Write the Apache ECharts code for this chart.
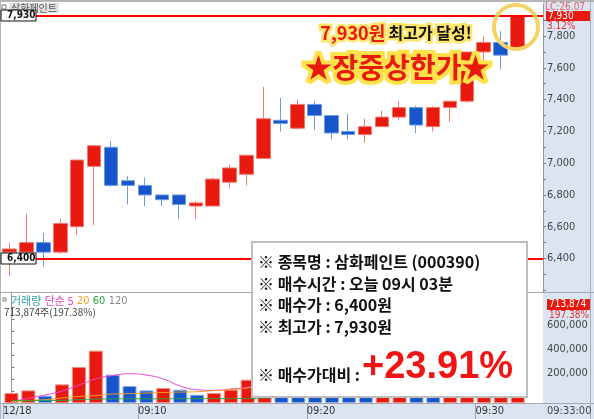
<!DOCTYPE html>
<html>
<head>
<meta charset="utf-8">
<script src="https://cdn.jsdelivr.net/npm/echarts@6/dist/echarts.min.js"></script>
<style>
  html, body { margin: 0; padding: 0; background: #fff; }
  #main { width: 594px; height: 419px; }
</style>
</head>
<body>
<div id="main"></div>
<script>
// 1분봉, 12/18
const times = ['09:02','09:03','09:04','09:05','09:06','09:07','09:08','09:09','09:10','09:11',
  '09:12','09:13','09:14','09:15','09:16','09:17','09:18','09:19','09:20','09:21',
  '09:22','09:23','09:24','09:25','09:26','09:27','09:28','09:29','09:30','09:31',
  '09:32','09:33'];
const opens  = [6440,6440,6500,6440,6600,6980,7100,6890,6860,6800,6800,6730,6730,6880,6930,7030,7270,7220,7370,7300,7200,7180,7230,7290,7350,7230,7350,7390,7700,7760,7720];
const closes = [6460,6500,6440,6620,7020,7110,6860,6860,6800,6770,6740,6750,6900,6970,7050,7280,7250,7370,7300,7190,7180,7230,7290,7350,7240,7350,7390,7700,7760,7680,7930];
const lows   = [6290,6430,6350,6430,6550,6610,6850,6740,6730,6730,6650,6650,6730,6840,6860,7030,7200,7210,7210,7150,7150,7130,7230,7270,7190,7200,7260,7380,7640,7590,7720];
const highs  = [6500,6680,6560,6650,7020,7110,7140,6920,6910,6800,6800,6760,6910,6990,7050,7480,7410,7400,7390,7300,7310,7280,7330,7390,7360,7360,7390,7700,7800,7830,7930];
const volumes = [83000,105000,61000,155000,300000,436000,236000,142000,105000,125000,111000,69000,83000,111000,194000,
  520000,420000,300000,260000,180000,120000,90000,130000,160000,140000,100000,130000,300000,330000,361670,713874];
// 거래량 이동평균 (단순 5, 20, 60) - 그림에서 읽은 값
const ma5  = [13000,38000,67000,100000,150000,200000,229000,244000,233000,200000,142000,111000,105000,117000,133000,195000,266000];
const ma20 = [11000,20000,28000,42000,55000,61000,75000,78000,83000,88000,91000,94000,103000,111000,125000,150000,170000];
const ma60 = [20000,20000,21000,22000,28000,33000,34000,35000,35000,35000,36000,36000,37000,37000,38000,42000,46000];
const priceTicks = [6400,6600,6800,7000,7200,7400,7600,7800];
const volTicks = [200000,400000,600000];
const timeTicks = [-0.5, 7.5, 17.5, 27.5];
const timeLabels = ['12/18','09:10','09:20','09:30'];
const buyPrice = 6400, highPrice = 7930;

const RED = '#e8190f', BLUE = '#1655cc';
const AXIS_BG = '#dbe5f1';
const numFont = "'Liberation Sans Narrow', 'DejaVu Sans Condensed', 'Liberation Sans', sans-serif";
const krFont = "'Noto Sans CJK KR', sans-serif";

const chart = echarts.init(document.getElementById('main'));

const candleData = opens.map((o, i) => [o, closes[i], lows[i], highs[i]]);
const volData = volumes.map((v, i) => ({
  value: v,
  itemStyle: (i === 0 || v >= volumes[i - 1])
    ? { color: RED, borderColor: '#f58a80', borderWidth: 1 }
    : { color: BLUE, borderColor: '#8fb0ea', borderWidth: 1 }
}));

const fmt = v => v.toLocaleString('en-US');

const baseGraphic = [
  // 축 영역 배경
  { type: 'rect', z: -10, silent: true, shape: { x: 543, y: 0, width: 51, height: 419 }, style: { fill: AXIS_BG } },
  { type: 'rect', z: -10, silent: true, shape: { x: 0, y: 404, width: 594, height: 15 }, style: { fill: AXIS_BG } },
  { type: 'rect', z: 50, silent: true, shape: { x: 0, y: 0, width: 594, height: 2 }, style: { fill: '#b4b4b4' } },
  { type: 'rect', z: 50, silent: true, shape: { x: 0, y: 0, width: 1, height: 419 }, style: { fill: '#b4b4b4' } },
  { type: 'line', z: 50, silent: true, shape: { x1: 0, y1: 292.5, x2: 594, y2: 292.5 }, style: { stroke: '#a8a8a8', lineWidth: 1 } },
  { type: 'line', z: 50, silent: true, shape: { x1: 0, y1: 403.5, x2: 594, y2: 403.5 }, style: { stroke: '#a8a8a8', lineWidth: 1 } },
  { type: 'line', z: 50, silent: true, shape: { x1: 590.5, y1: 0, x2: 590.5, y2: 419 }, style: { stroke: '#a8b4c4', lineWidth: 1 } },
  // 종목 라벨
  { type: 'rect', z: 50, shape: { x: 2, y: 5, width: 4, height: 4 }, style: { fill: '#fff', stroke: '#777', lineWidth: 1 } },
  { type: 'text', z: 50, x: 9, y: 3, style: { text: '삼화페인트', font: '10px ' + krFont, fill: '#555',
      backgroundColor: '#e2e2e2', padding: [0, 2] } },
  // 우측 가격축 정보
  { type: 'text', z: 50, x: 545, y: 2, style: { text: 'LC:26.07', font: '10px ' + numFont, fill: '#e06060' } },
  { type: 'rect', z: 50, shape: { x: 546, y: 11, width: 44, height: 10 }, style: { fill: RED } },
  { type: 'text', z: 51, x: 548, y: 11, style: { text: '7,930', font: '10px ' + numFont, fill: '#fff' } },
  { type: 'text', z: 50, x: 547, y: 21, style: { text: '3.12%', font: '10px ' + numFont, fill: '#e03030' } },
  // 거래량 정보
  { type: 'rect', z: 50, shape: { x: 547, y: 299, width: 43, height: 11 }, style: { fill: RED } },
  { type: 'text', z: 51, x: 549, y: 299.5, style: { text: '713,874', font: '10px ' + numFont, fill: '#fff' } },
  { type: 'text', z: 50, x: 549, y: 310, style: { text: '197.38%', font: '10px ' + numFont, fill: '#e03030' } },
  { type: 'rect', z: 50, shape: { x: 3, y: 298, width: 3, height: 3 }, style: { fill: '#fff', stroke: '#777', lineWidth: 1 } },
  { type: 'text', z: 50, x: 11, y: 295, style: {
      text: '{a|거래량} {b|단순 5} {c|20} {d|60} {e|120}',
      rich: {
        a: { font: '11px ' + krFont, fill: '#2a9fa6' },
        b: { font: '11px ' + krFont, fill: '#e040c0' },
        c: { font: '11px ' + numFont, fill: '#f0a020' },
        d: { font: '11px ' + numFont, fill: '#2e9e3e' },
        e: { font: '11px ' + numFont, fill: '#888' }
      } } },
  { type: 'text', z: 50, x: 4, y: 307, style: { text: '713,874주(197.38%)', font: '10px ' + krFont, fill: '#444' } },
  { type: 'text', z: 50, x: 547, y: 406, style: { text: '09:33:00', font: '11px ' + numFont, fill: '#444' } },
  // 강조 문구
  { type: 'text', z: 60, x: 396, y: 33, style: {
      text: '{r|7,930원} {k|최고가 달성!}', align: 'center', verticalAlign: 'middle',
      stroke: '#ffe46b', lineWidth: 5, strokeFirst: true,
      rich: {
        r: { font: 'bold 18px ' + krFont, fill: RED, stroke: '#ffe46b', lineWidth: 5 },
        k: { font: 'bold 16px ' + krFont, fill: '#111', stroke: '#ffe46b', lineWidth: 5 }
      } } },
  { type: 'text', z: 60, x: 397, y: 67, style: {
      text: '★장중상한가★', align: 'center', verticalAlign: 'middle',
      font: 'bold 28px ' + krFont, fill: RED, stroke: '#ffe14a', lineWidth: 8, strokeFirst: true } },
  { type: 'circle', z: 60, shape: { cx: 516, cy: 27, r: 22 }, style: { fill: 'none', stroke: '#f6d364', lineWidth: 4 } },
  // 정보 박스
  { type: 'rect', z: 70, shape: { x: 252, y: 242, width: 275, height: 155 }, style: { fill: '#fff', stroke: '#bdbdbd', lineWidth: 2 } },
  { type: 'text', z: 71, x: 258, y: 262, style: { text: '※ 종목명 : 삼화페인트 (000390)', font: 'bold 16px ' + krFont, fill: '#111', verticalAlign: 'middle' } },
  { type: 'text', z: 71, x: 258, y: 283.5, style: { text: '※ 매수시간 : 오늘 09시 03분', font: 'bold 16px ' + krFont, fill: '#111', verticalAlign: 'middle' } },
  { type: 'text', z: 71, x: 258, y: 305, style: { text: '※ 매수가 : 6,400원', font: 'bold 16px ' + krFont, fill: '#111', verticalAlign: 'middle' } },
  { type: 'text', z: 71, x: 258, y: 326.5, style: { text: '※ 최고가 : 7,930원', font: 'bold 16px ' + krFont, fill: '#111', verticalAlign: 'middle' } },
  { type: 'text', z: 71, x: 258, y: 375, style: { text: '※ 매수가대비 :', font: 'bold 16px ' + krFont, fill: '#111', verticalAlign: 'middle' } },
  { type: 'text', z: 71, x: 362, y: 368, style: { text: '+23.91%', font: 'bold 38px Liberation Sans, Arial, sans-serif', fill: '#f01414', verticalAlign: 'middle' } }
];

const option = {
  animation: false,
  backgroundColor: '#fff',
  grid: [
    { left: 1, top: 4, width: 542, height: 288 },
    { left: 1, top: 293, width: 542, height: 110 }
  ],
  xAxis: [
    { type: 'category', gridIndex: 0, data: times, boundaryGap: true, show: false },
    { type: 'category', gridIndex: 1, data: times, boundaryGap: true, show: false },
    {
      type: 'value', gridIndex: 1, min: -0.5, max: 31.5, position: 'bottom',
      axisLine: { show: false },
      splitLine: { show: false },
      axisTick: { show: true, customValues: timeTicks, length: 16, inside: false, lineStyle: { color: '#9aa6b4' } },
      axisLabel: {
        customValues: timeTicks, align: 'left', margin: 3,
        color: '#333', fontSize: 11, fontFamily: numFont,
        formatter: v => timeLabels[timeTicks.indexOf(v)] || ''
      }
    }
  ],
  yAxis: [
    {
      type: 'value', gridIndex: 0, position: 'right', min: 6189, max: 8002,
      splitLine: { show: false },
      axisLine: { show: true, lineStyle: { color: '#8f9aa8' } },
      axisTick: { show: true, length: 3, lineStyle: { color: '#777' },
        customValues: [6200,6300,6400,6500,6600,6700,6800,6900,7000,7100,7200,7300,7400,7500,7600,7700,7800,7900] },
      axisLabel: { customValues: priceTicks, formatter: fmt, color: '#444', fontSize: 11, fontFamily: numFont, margin: 4 }
    },
    {
      type: 'value', gridIndex: 1, position: 'right', min: 0, max: 916700,
      splitLine: { show: false },
      axisLine: { show: true, lineStyle: { color: '#8f9aa8' } },
      axisTick: { show: true, length: 3, lineStyle: { color: '#777' }, customValues: [100000,200000,300000,400000,500000,600000,700000,800000] },
      axisLabel: { customValues: volTicks, formatter: fmt, color: '#444', fontSize: 11, fontFamily: numFont, margin: 4, verticalAlign: 'bottom' }
    }
  ],
  series: [
    {
      type: 'candlestick', xAxisIndex: 0, yAxisIndex: 0, data: candleData, barWidth: 14,
      itemStyle: { color: RED, color0: BLUE, borderColor: '#f07a6e', borderColor0: '#6f9ae0', borderWidth: 1 },
      markLine: {
        silent: true, symbol: 'none', label: { show: false },
        lineStyle: { color: '#ff0000', width: 2, type: 'solid' },
        data: [{ yAxis: highPrice }, { yAxis: buyPrice }]
      }
    },
    { type: 'bar', xAxisIndex: 1, yAxisIndex: 1, data: volData, barWidth: 14 },
    { type: 'line', xAxisIndex: 1, yAxisIndex: 1, data: ma5, smooth: true, showSymbol: false, lineStyle: { color: '#ee44cc', width: 1 } },
    { type: 'line', xAxisIndex: 1, yAxisIndex: 1, data: ma20, smooth: true, showSymbol: false, lineStyle: { color: '#f0a020', width: 1 } },
    { type: 'line', xAxisIndex: 1, yAxisIndex: 1, data: ma60, smooth: true, showSymbol: false, lineStyle: { color: '#2e9e3e', width: 1 } }
  ],
  graphic: baseGraphic
};

chart.setOption(option);

// 수평선 가격 라벨 (축 좌표 변환)
[highPrice, buyPrice].forEach(p => {
  const y = chart.convertToPixel({ yAxisIndex: 0 }, p);
  baseGraphic.push({ type: 'rect', z: 55, shape: { x: 1, y: Math.round(y) - 5, width: 35, height: 11 }, style: { fill: '#fff', stroke: '#111', lineWidth: 1 } });
  baseGraphic.push({ type: 'text', z: 56, x: 7, y: Math.round(y) + 0.5, style: { text: fmt(p), font: 'bold 10px ' + numFont, fill: '#111', verticalAlign: 'middle' } });
});
chart.setOption(option, true);
</script>
</body>
</html>
